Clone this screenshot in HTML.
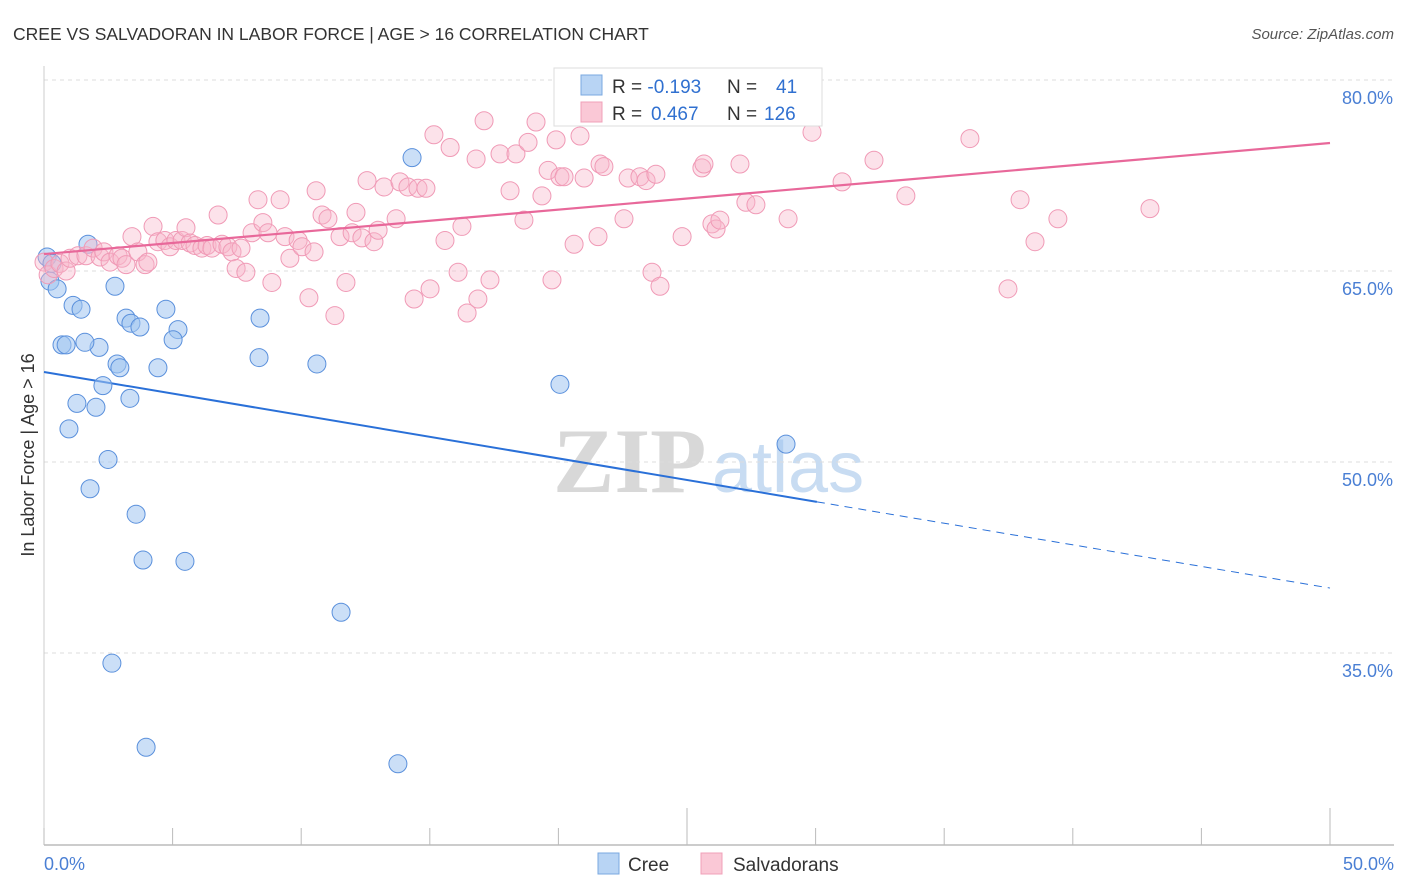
<!DOCTYPE html>
<html><head><meta charset="utf-8"><style>
body{margin:0;background:#fff;font-family:"Liberation Sans",sans-serif}
svg{display:block}
</style></head><body>
<svg id="chart" width="1406" height="892" xmlns="http://www.w3.org/2000/svg">
<text x="13" y="40" font-size="17.5" fill="#333">CREE VS SALVADORAN IN LABOR FORCE | AGE &gt; 16 CORRELATION CHART</text>
<text x="1394" y="39" font-size="15" fill="#555" font-style="italic" text-anchor="end">Source: ZipAtlas.com</text>
<text transform="translate(34,455) rotate(-90)" font-size="18" fill="#333" text-anchor="middle">In Labor Force | Age &gt; 16</text>
<g>
<text x="553" y="492" font-size="92" font-family="Liberation Serif" fill="#d8d8d8" font-weight="bold">ZIP</text>
<text x="712" y="492" font-size="72" fill="#c8dcf2">atlas</text>
</g>
<g id="grid"></g><g id="axes"></g><g id="lines"></g><g id="pts"></g>
<g>
<rect x="554" y="68" width="268" height="58" fill="#fff" stroke="#ddd"/>
<rect x="581" y="75" width="21" height="20" fill="#b8d4f4" stroke="#7aa8e0"/>
<rect x="581" y="102" width="21" height="20" fill="#fac8d6" stroke="#f0a0b8"/>
<text x="612" y="93" font-size="19" fill="#333">R = <tspan fill="#3070d0">-0.193</tspan><tspan x="727">N =</tspan><tspan x="776" fill="#3070d0">41</tspan></text>
<text x="612" y="120" font-size="19" fill="#333">R = <tspan x="651" fill="#3070d0">0.467</tspan><tspan x="727">N =</tspan><tspan x="764" fill="#3070d0">126</tspan></text>
</g>
<g>
<rect x="598" y="853" width="21" height="21" fill="#b8d4f4" stroke="#7aa8e0"/>
<text x="628" y="871" font-size="19" fill="#333">Cree</text>
<rect x="701" y="853" width="21" height="21" fill="#fac8d6" stroke="#f0a0b8"/>
<text x="733" y="871" font-size="19" fill="#333">Salvadorans</text>
</g>
</svg>
<script>
const yTicks=[80,65,50,35];
const yTickLabels=["80.0%","65.0%","50.0%","35.0%"];
const xTickVals=[0,5,10,15,20,25,30,35,40,45,50];
const xEndLabels=["0.0%","50.0%"];
const creeX=[0.12,0.23,0.51,1.71,1.13,1.44,0.70,0.86,2.14,1.59,2.76,3.19,3.38,3.73,4.74,5.21,5.02,2.84,2.95,4.43,2.29,1.28,2.02,3.34,0.97,2.49,1.79,3.58,3.85,5.48,2.64,3.97,8.40,8.36,10.61,11.55,13.76,14.31,20.06,28.85,0.31];
const creeY=[66.1,64.2,63.6,67.1,62.3,62.0,59.2,59.2,59.0,59.4,63.8,61.3,60.9,60.6,62.0,60.4,59.6,57.7,57.4,57.4,56.0,54.6,54.3,55.0,52.6,50.2,47.9,45.9,42.3,42.2,34.2,27.6,61.3,58.2,57.7,38.2,26.3,73.9,56.1,51.4,65.6];
const salvX=[0,0.16,0.39,0.62,0.86,1.01,1.32,1.63,1.91,2.18,2.33,2.57,2.88,3.03,3.19,3.42,3.65,3.93,4.04,4.24,4.43,4.70,4.90,5.13,5.37,5.52,5.68,5.87,6.14,6.34,6.53,6.77,6.92,7.15,7.31,7.47,7.66,7.85,8.09,8.32,8.51,8.71,8.86,9.18,9.37,9.56,9.88,10.03,10.30,10.50,10.58,10.81,11.04,11.31,11.51,11.74,11.98,12.13,12.36,12.56,12.83,12.99,13.22,13.69,13.84,14.15,14.39,14.54,14.85,15.01,15.16,15.59,15.79,16.10,16.25,16.45,16.80,16.87,17.11,17.34,17.73,18.12,18.35,18.66,18.82,19.13,19.36,19.60,19.75,19.91,20.06,20.22,20.61,20.84,21.00,21.54,21.62,21.77,22.55,22.71,23.17,23.41,23.64,23.79,23.95,24.81,25.58,25.66,25.97,26.13,26.28,27.06,27.29,27.68,28.93,29.86,31.03,32.27,33.51,36.00,37.48,37.95,38.53,39.42,43.00,27.53];
const salvY=[65.7,64.7,65.2,65.6,65.0,66.0,66.2,66.2,66.8,66.1,66.5,65.7,66.2,66.0,65.5,67.7,66.5,65.5,65.7,68.5,67.3,67.4,66.9,67.4,67.4,68.4,67.2,67.0,66.8,67.0,66.8,69.4,67.1,66.9,66.5,65.2,66.8,64.9,68.0,70.6,68.8,68.0,64.1,70.6,67.7,66.0,67.4,66.9,62.9,66.5,71.3,69.4,69.1,61.5,67.7,64.1,68.0,69.6,67.6,72.1,67.3,68.2,71.6,69.1,72.0,71.6,62.8,71.5,71.5,63.6,75.7,67.4,74.7,64.9,68.5,61.7,73.8,62.8,76.8,64.3,74.2,71.3,74.2,69.0,75.1,76.7,70.9,72.9,64.3,75.3,72.4,72.4,67.1,75.6,72.3,67.7,73.4,73.2,69.1,72.3,72.4,72.1,64.9,72.6,63.8,67.7,73.1,73.4,68.7,68.3,69.0,73.4,70.4,70.2,69.1,75.9,72.0,73.7,70.9,75.4,63.6,70.6,67.3,69.1,69.9,77.9];
const creeTrend=[57.07,40.10];
const creeSolidEnd=30.05;
const salvTrend=[66.33,75.05];

const NS="http://www.w3.org/2000/svg";
const X0=44,X1=1330,YTOP=80,YBOT=844;
function sx(v){return X0+(v/50)*(X1-X0);}
function sy(v){return YTOP+(80-v)/60*(YBOT-YTOP);}
function mk(tag,attrs,parent){const e=document.createElementNS(NS,tag);for(const k in attrs)e.setAttribute(k,attrs[k]);parent.appendChild(e);return e;}
const grid=document.getElementById('grid'),axes=document.getElementById('axes'),lines=document.getElementById('lines'),pts=document.getElementById('pts');
yTicks.forEach((t,i)=>{
  const l=mk('line',{x1:X0,x2:1394,y1:sy(t),y2:sy(t),stroke:'#ddd','stroke-dasharray':'4,4'},grid);
  
  
  const tx=mk('text',{x:1393,y:sy(t)+24,'font-size':18,fill:'#4a7fd4','text-anchor':'end'},grid);
  tx.textContent=yTickLabels[i];
  
  
});
const ya=mk('line',{x1:X0,x2:X0,y1:66,y2:845,stroke:'#ccc'},axes);


const xa=mk('line',{x1:X0,x2:1394,y1:845,y2:845,stroke:'#bbb','stroke-width':1.5},axes);


xTickVals.forEach(v=>{
  const tall=(v===25||v===50);
  const t=mk('line',{x1:sx(v),x2:sx(v),y1:tall?808:828,y2:845,stroke:'#bbb'},axes);
  
  
});
[[0,'start'],[50,'end']].forEach((p,i)=>{
  const t=mk('text',{x:i?1394:44,y:870,'font-size':18,fill:'#4a7fd4','text-anchor':p[1]},axes);
  t.textContent=xEndLabels[i];
  
  
});
function yAt(tr,x){return tr[0]+(tr[1]-tr[0])*x/50;}
const bl=mk('line',{x1:sx(0),y1:sy(creeTrend[0]),x2:sx(creeSolidEnd),y2:sy(yAt(creeTrend,creeSolidEnd)),stroke:'#2a70d8','stroke-width':2},lines);


const bd=mk('line',{x1:sx(creeSolidEnd),y1:sy(yAt(creeTrend,creeSolidEnd)),x2:sx(50),y2:sy(creeTrend[1]),stroke:'#2a70d8','stroke-width':1,'stroke-dasharray':'8,6'},lines);


creeX.forEach((x,i)=>{
  const c=mk('circle',{cx:sx(x),cy:sy(creeY[i]),r:9,fill:'rgba(160,196,240,0.55)',stroke:'#5a90dc','stroke-width':1},pts);
  
  
});
salvX.forEach((x,i)=>{
  const c=mk('circle',{cx:sx(x),cy:sy(salvY[i]),r:9,fill:'rgba(248,182,202,0.4)',stroke:'#f09ab6','stroke-width':1},pts);
  
  
});
const pl=mk('line',{x1:sx(0),y1:sy(salvTrend[0]),x2:sx(50),y2:sy(salvTrend[1]),stroke:'#e8689a','stroke-width':2.2},pts);


</script>
</body></html>
